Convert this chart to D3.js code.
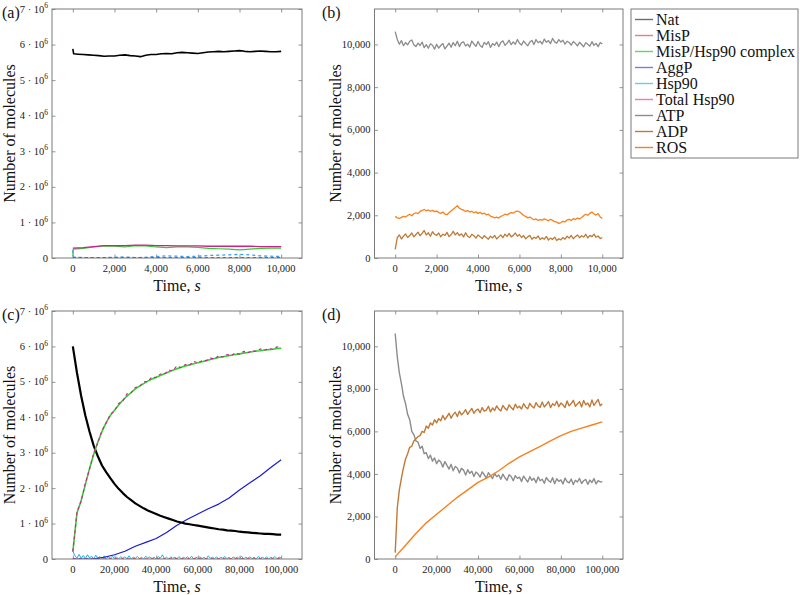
<!DOCTYPE html>
<html><head><meta charset="utf-8">
<script src="https://cdn.jsdelivr.net/npm/d3@7"></script>
<style>
body{margin:0;background:#fff;}
svg{display:block;font-family:"Liberation Serif","Times New Roman",serif;}
</style></head>
<body><svg id="chart" width="800" height="595"></svg>
<script>
// ---------------- DATA ----------------
const legendNames = ["Nat","MisP","MisP/Hsp90 complex","AggP","Hsp90","Total Hsp90","ATP","ADP","ROS"];
const legendColors = ["#6e6e6e","#f07a7a","#5fd85f","#7a7af0","#6cc8f0","#f07ab4","#8c8c8c","#c07a38","#f5821f"];

const xTicksShort = [0,2000,4000,6000,8000,10000];
const xTicksLong = [0,20000,40000,60000,80000,100000];
const yTicksMillions = [0,1,2,3,4,5,6,7];
const yTicksMolecules = [0,2000,4000,6000,8000,10000];

// (a) values in millions of molecules
const natA_t = [0,40,250,500,750,1000,1250,1500,1750,2000,2250,2500,2750,3000,3250,3500,3750,4000,4250,4500,4750,5000,5250,5500,5750,6000,6250,6500,6750,7000,7250,7500,7750,8000,8250,8500,8750,9000,9250,9500,9750,10000];
const natA = [5.88,5.74,5.73,5.72,5.71,5.70,5.69,5.67,5.68,5.68,5.70,5.71,5.69,5.68,5.66,5.70,5.72,5.72,5.74,5.75,5.74,5.77,5.78,5.77,5.76,5.75,5.77,5.79,5.80,5.81,5.80,5.81,5.82,5.83,5.81,5.80,5.81,5.82,5.81,5.80,5.80,5.81];
const cplxA_t = [0,20,500,1000,1500,2000,2500,3000,3500,4000,4500,5000,5500,6000,6500,7000,7500,8000,8500,9000,9500,10000];
const complexA = [0.05,0.25,0.27,0.31,0.34,0.33,0.31,0.35,0.34,0.31,0.29,0.31,0.31,0.30,0.27,0.26,0.25,0.23,0.25,0.27,0.28,0.28];
const hsp90A = [0.22,0.03,0.01,0.01,0.01,0.02,0.03,0.01,0.02,0.04,0.06,0.05,0.04,0.05,0.07,0.08,0.09,0.10,0.09,0.06,0.05,0.04];
const step500_t = [0,500,1000,1500,2000,2500,3000,3500,4000,4500,5000,5500,6000,6500,7000,7500,8000,8500,9000,9500,10000];
const totalHspA = [0.28,0.29,0.32,0.35,0.35,0.35,0.36,0.36,0.35,0.35,0.34,0.34,0.34,0.33,0.33,0.33,0.33,0.33,0.32,0.32,0.32];
const misPA = [0.006,0.005,0.006,0.005,0.006,0.005,0.006,0.005,0.006,0.005,0.006,0.005,0.006,0.005,0.006,0.005,0.006,0.005,0.006,0.005,0.006];
const aggPA = [0,0,0,0,0,0,0,0,0,0,0,0,0,0,0,0,0,0,0,0,0];

// (b) molecules, sampled every 100 s
const atpB = [10600,10230,10010,10180,9940,10090,9980,10150,10210,9990,9900,
  10060,9950,10110,9850,9990,9820,10030,9960,9780,10010,
  9830,9950,10040,9790,9920,10060,9870,10090,9940,10150,
  9900,10080,10120,9930,10010,9880,10160,10020,9910,10140,
  9950,9870,10100,9990,10130,9860,10040,9960,10110,9900,
  10090,10170,9960,10050,10200,9990,10120,10010,10230,10060,
  9970,10160,10040,9940,10110,10190,10000,10230,10080,10150,
  10020,10250,10100,10180,10040,10280,10120,10060,10230,10110,
  10200,10010,10150,10090,9970,10140,10050,9930,10100,10000,
  9890,10080,10010,9920,10130,9960,10050,9900,10090,10020];
const rosB = [1950,1880,1850,1900,1950,1920,1990,2050,1980,2070,2120,2080,2180,2230,2270,2210,2250,2190,2230,2170,2200,2130,2080,2150,2060,2030,2120,2200,2280,2360,2450,2330,2280,2240,2180,2220,2150,2190,2120,2160,2090,2140,2060,2100,2020,2050,1960,1930,1880,1910,1870,1950,1990,2050,2020,2080,2130,2100,2170,2200,2160,2080,1990,1950,1880,1920,1850,1790,1830,1760,1800,1770,1830,1790,1740,1810,1760,1700,1680,1620,1660,1720,1690,1780,1810,1760,1840,1800,1870,1830,1900,1980,2050,2000,2090,2150,2060,2010,2080,1920,1850];
const adpB = [400,950,1080,890,1020,1130,960,1050,1170,990,1100,
  1210,1040,1150,1290,1080,1180,1020,1230,1110,1060,
  1170,990,1120,1050,1200,1000,1090,1250,1080,1190,
  1050,1130,990,1180,1020,960,1110,1040,930,1080,
  1000,910,1050,960,880,1020,940,1060,890,990,
  1080,950,1120,1010,1150,990,1060,1170,1020,1100,
  960,1050,900,990,1060,880,970,920,1030,860,
  950,880,1010,840,930,870,980,820,900,850,
  960,880,1020,930,1060,900,1000,1080,950,1040,
  980,1110,940,1060,1000,1120,970,1030,910,960];

// (c) millions of molecules
const natC = [6.0,5.25,4.6,4.05,3.6,3.2,2.9,2.64,2.45,2.28,2.12,1.98,1.86,1.75,1.66,1.57,1.5,1.43,1.37,1.32,1.27,1.22,1.18,1.14,1.1,1.06,1.03,1.0,0.98,0.96,0.94,0.92,0.9,0.88,0.86,0.84,0.83,0.81,0.8,0.79,0.77,0.76,0.75,0.74,0.73,0.72,0.71,0.71,0.7,0.69,0.69];
const complexC = [0.2,1.3,1.65,2.1,2.55,2.95,3.3,3.6,3.85,4.05,4.2,4.35,4.48,4.6,4.7,4.8,4.88,4.95,5.02,5.08,5.13,5.18,5.23,5.28,5.33,5.37,5.41,5.45,5.48,5.51,5.54,5.57,5.6,5.63,5.66,5.69,5.71,5.73,5.75,5.77,5.79,5.81,5.83,5.85,5.87,5.88,5.9,5.91,5.92,5.94,5.95];
const totalHspC = [0.22,1.33,1.63,2.14,2.53,2.99,3.28,3.63,3.84,4.09,4.18,4.39,4.46,4.66,4.69,4.84,4.87,5.0,5.01,5.14,5.12,5.22,5.22,5.33,5.32,5.45,5.4,5.49,5.47,5.58,5.53,5.6,5.6,5.67,5.65,5.74,5.7,5.77,5.74,5.82,5.78,5.86,5.82,5.88,5.86,5.93,5.89,5.94,5.92,5.99,5.95];
const aggPC = [0,0,0.005,0.05,0.12,0.22,0.36,0.47,0.58,0.75,0.95,1.12,1.27,1.42,1.55,1.72,1.95,2.15,2.35,2.58,2.8];
const misPC = [0.01,0.005,0.01,0.005,0.01,0.005,0.01,0.005,0.01,0.005,0.01,0.005,0.01,0.005,0.01,0.005,0.01,0.005,0.01,0.005,0.01];
const hsp90C = [0.22,0.09,0.03,0.13,0.02,0.1,0.01,0.12,0.03,0.08,0.0,0.11,0.02,0.07,0.01,0.09,0.0,0.06,0.02,0.08,0.01,0.05,0.0,0.07,0.02,0.06,0.01,0.09,0.0,0.05,0.02,0.07,0.01,0.05,0.0,0.08,0.02,0.06,0.01,0.05,0.0,0.07,0.02,0.12,0.01,0.05,0.0,0.06,0.02,0.05,0.01,0.07,0.0,0.05,0.02,0.06,0.01,0.08,0.0,0.05,0.02,0.06,0.01,0.05,0.0,0.09,0.02,0.05,0.01,0.06,0.0,0.05,0.02,0.07,0.01,0.05,0.0,0.06,0.02,0.05,0.01,0.08,0.0,0.05,0.02,0.06,0.01,0.05,0.0,0.07,0.02,0.05,0.01,0.06,0.0,0.05,0.02,0.07,0.01,0.05,0.03];

// (d) molecules, sampled every 1000 s
const atpD = [10600,9500,8750,8250,7650,7300,6800,6550,6000,5850,5550,
  5500,5200,5300,4950,5000,4720,4880,4600,4750,4480,
  4650,4560,4320,4580,4400,4230,4450,4150,4350,4280,
  4050,4260,4180,3950,4200,4030,4130,3880,4090,4000,
  3850,4100,3960,3800,4060,3920,3780,4020,3870,3950,
  3750,3990,3820,3700,3960,3880,3680,3920,3790,3850,
  3640,3900,3760,3620,3870,3700,3800,3590,3860,3680,
  3750,3560,3830,3690,3610,3820,3540,3770,3650,3720,
  3530,3800,3640,3580,3760,3500,3700,3620,3790,3550,
  3680,3740,3510,3710,3600,3780,3530,3690,3620,3640];
const adpD = [300,2400,3250,3800,4300,4700,4950,5250,5300,5550,5650,
  5750,5800,6000,5950,6250,6150,6400,6300,6550,6400,
  6600,6500,6750,6550,6700,6850,6620,6800,6900,6700,
  6950,6780,6880,7020,6800,6950,7080,6850,6990,7050,
  6880,7120,6950,7000,7180,6920,7100,6980,7200,7050,
  6960,7220,7080,7000,7250,7120,7020,7280,7100,7180,
  7050,7300,7150,7060,7320,7180,7100,7350,7200,7130,
  7380,7150,7260,7400,7120,7300,7220,7420,7160,7330,
  7250,7120,7430,7200,7310,7460,7180,7290,7400,7150,
  7450,7250,7330,7150,7480,7220,7360,7500,7200,7300];
const rosD = [100,650,1200,1700,2100,2500,2900,3250,3600,3850,4150,4500,4800,5050,5300,5550,5800,6000,6150,6300,6450];

// ---------------- DRAW ----------------
const svg = d3.select("#chart");
const fmtComma = d3.format(",");
const AX = "#7a7a7a";

function stepTimes(arr, step){ return arr.map((_, i) => i * step); }

function panel(o){
  const g = svg.append("g");
  const x = d3.scaleLinear().domain(o.xDomain).range([o.left, o.right]);
  const y = d3.scaleLinear().domain(o.yDomain).range([o.bottom, o.top]);
  const clipId = "clip" + o.id;
  svg.append("clipPath").attr("id", clipId).append("rect")
    .attr("x", o.left).attr("y", o.top).attr("width", o.right - o.left).attr("height", o.bottom - o.top);

  const tl = 3.5;
  const bottomAx = d3.axisBottom(x).tickValues(o.xTicks).tickSize(-tl).tickFormat("");
  const topAx = d3.axisTop(x).tickValues(o.xTicks).tickSize(-tl).tickFormat("");
  const leftAx = d3.axisLeft(y).tickValues(o.yTicks).tickSize(-tl).tickFormat("");
  const rightAx = d3.axisRight(y).tickValues(o.yTicks).tickSize(-tl).tickFormat("");
  [[bottomAx,`translate(0,${o.bottom})`],[topAx,`translate(0,${o.top})`],[leftAx,`translate(${o.left},0)`],[rightAx,`translate(${o.right},0)`]]
    .forEach(([ax,tr]) => {
      const a = g.append("g").attr("transform", tr).call(ax);
      a.select(".domain").remove();
      a.selectAll(".tick line").attr("stroke", AX).attr("stroke-width", 0.8);
    });

  const lg = g.append("g").attr("clip-path", `url(#${clipId})`);
  o.series.forEach(s => {
    const pts = s.v.map((v, i) => [s.t[i], v]);
    lg.append("path").datum(pts)
      .attr("fill", "none").attr("stroke", s.color).attr("stroke-width", s.w || 1)
      .attr("stroke-dasharray", s.dash || null)
      .attr("stroke-linejoin", "round")
      .attr("d", d3.line().x(d => x(d[0])).y(d => y(d[1])));
  });

  g.append("rect").attr("x", o.left).attr("y", o.top)
    .attr("width", o.right - o.left).attr("height", o.bottom - o.top)
    .attr("fill", "none").attr("stroke", AX).attr("stroke-width", 1);

  g.append("g").selectAll("text").data(o.xTicks).join("text")
    .attr("x", d => x(d)).attr("y", o.bottom + 14)
    .attr("text-anchor", "middle").attr("font-size", 10.5).attr("fill", "#222")
    .text(d => fmtComma(d));
  const yl = g.append("g").selectAll("text").data(o.yTicks).join("text")
    .attr("x", o.left - 4).attr("y", d => y(d) + 3.6)
    .attr("text-anchor", "end").attr("font-size", 10.5).attr("fill", "#222");
  if (o.sci) {
    yl.each(function(d){
      const t = d3.select(this);
      if (d === 0) { t.text("0"); return; }
      t.append("tspan").text(d + " \u00B7 10");
      t.append("tspan").attr("font-size", 7.5).attr("dy", -4.5).text("6");
    });
  } else {
    yl.text(d => fmtComma(d));
  }
  const xt = g.append("text").attr("x", (o.left + o.right) / 2).attr("y", o.bottom + 33)
    .attr("text-anchor", "middle").attr("font-size", 16).attr("fill", "#111");
  xt.append("tspan").text("Time, ");
  xt.append("tspan").attr("font-style", "italic").text("s");
  g.append("text").attr("transform", `translate(${o.ytX},${(o.top + o.bottom) / 2}) rotate(-90)`)
    .attr("text-anchor", "middle").attr("font-size", 16).attr("fill", "#111")
    .text("Number of molecules");
  g.append("text").attr("x", o.labX).attr("y", o.top + 9)
    .attr("font-size", 16).attr("fill", "#111").text(o.label);
}

const C = {nat:"#000000", misP:"#e8202a", cplx:"#33cc33", agg:"#1a1ad0", hsp:"#1ab0f0", tot:"#d0208c", atp:"#8c8c8c", adp:"#c07a38", ros:"#f5821f"};

panel({id:"a", label:"(a)", labX:2, ytX:15, left:52, right:302, top:9, bottom:258,
  xDomain:[-1000,11000], yDomain:[0,7], xTicks:xTicksShort, yTicks:yTicksMillions, sci:true,
  series:[
    {t:natA_t, v:natA, color:C.nat, w:1.6},
    {t:cplxA_t, v:complexA, color:C.cplx, w:1.2},
    {t:step500_t, v:totalHspA, color:C.tot, w:1.3},
    {t:cplxA_t, v:hsp90A, color:"#3a9cf0", w:1.3, dash:"3,3"},
    {t:step500_t, v:aggPA, color:C.agg, w:1.5, dash:"3,3"},
    {t:step500_t, v:misPA, color:C.misP, w:1.5, dash:"3,3"}
  ]});

panel({id:"b", label:"(b)", labX:322, ytX:341, left:374.5, right:623, top:9, bottom:258,
  xDomain:[-1000,11000], yDomain:[0,11660], xTicks:xTicksShort, yTicks:yTicksMolecules, sci:false,
  series:[
    {t:stepTimes(atpB,100), v:atpB, color:C.atp, w:1.3},
    {t:stepTimes(adpB,100), v:adpB, color:C.adp, w:1.3},
    {t:stepTimes(rosB,100), v:rosB, color:C.ros, w:1.3}
  ]});

panel({id:"c", label:"(c)", labX:2, ytX:15, left:52, right:302, top:311, bottom:559,
  xDomain:[-10000,110000], yDomain:[0,7], xTicks:xTicksLong, yTicks:yTicksMillions, sci:true,
  series:[
    {t:stepTimes(hsp90C,1000), v:hsp90C, color:C.hsp, w:1},
    {t:stepTimes(misPC,5000), v:misPC, color:C.misP, w:1, dash:"3,3"},
    {t:stepTimes(aggPC,5000), v:aggPC, color:C.agg, w:1.2},
    {t:stepTimes(natC,2000), v:natC, color:C.nat, w:2.2},
    {t:stepTimes(complexC,2000), v:complexC, color:C.cplx, w:1.6},
    {t:stepTimes(totalHspC,2000), v:totalHspC, color:C.tot, w:1.1, dash:"3,3"}
  ]});

panel({id:"d", label:"(d)", labX:322, ytX:341, left:374.5, right:623, top:311, bottom:559,
  xDomain:[-10000,110000], yDomain:[0,11660], xTicks:xTicksLong, yTicks:yTicksMolecules, sci:false,
  series:[
    {t:stepTimes(atpD,1000), v:atpD, color:C.atp, w:1.4},
    {t:stepTimes(adpD,1000), v:adpD, color:C.adp, w:1.4},
    {t:stepTimes(rosD,5000), v:rosD, color:C.ros, w:1.4}
  ]});

// legend
const lgX = 631, lgY = 9, lgW = 167, lgH = 149;
const leg = svg.append("g");
leg.append("rect").attr("x", lgX).attr("y", lgY).attr("width", lgW).attr("height", lgH)
  .attr("fill", "#fff").attr("stroke", AX).attr("stroke-width", 1);
const ly = d3.scalePoint().domain(legendNames).range([lgY + 10.5, lgY + lgH - 10.5]);
legendNames.forEach((name, i) => {
  leg.append("line").attr("x1", lgX + 4).attr("x2", lgX + 22)
    .attr("y1", ly(name)).attr("y2", ly(name))
    .attr("stroke", legendColors[i]).attr("stroke-width", 1.4);
  leg.append("text").attr("x", lgX + 25).attr("y", ly(name) + 5)
    .attr("font-size", 16).attr("fill", "#111").text(name);
});
</script>
</body></html>
